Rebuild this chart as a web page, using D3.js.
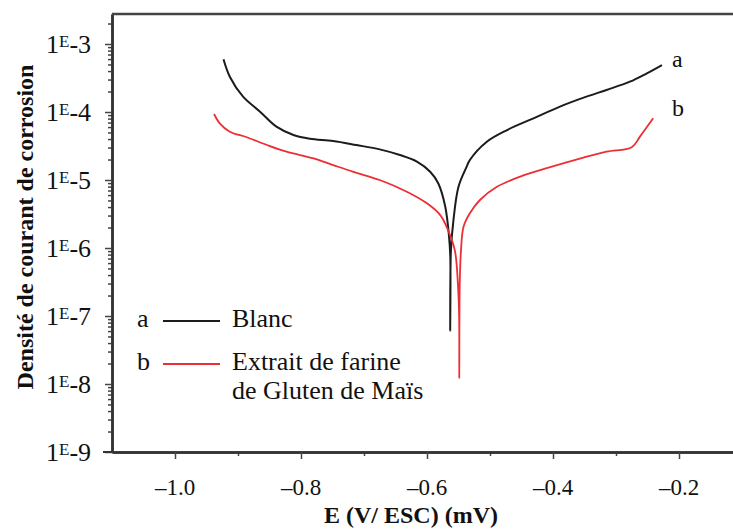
<!DOCTYPE html>
<html lang="fr">
<head>
<meta charset="utf-8">
<style>
  body { margin: 0; background: white; }
  svg { display: block; background: white; font-family: 'Liberation Serif', 'Times New Roman', serif; }
  .axis path { stroke: #333; stroke-width: 2.5; }
  .axis line { stroke: #444; stroke-width: 1.5; }
  .axis text { display: none; }
</style>
</head>
<body>
<svg width="733" height="529"></svg>
<script src="https://cdn.jsdelivr.net/npm/d3@7"></script>
<script>
// curve a : Blanc  (E in V, i in A/cm2)
const potentialA = [-0.923, -0.913, -0.892, -0.865, -0.839, -0.812, -0.786, -0.749, -0.712, -0.675,
  -0.643, -0.616, -0.595, -0.582, -0.571, -0.565, -0.563, -0.5632, -0.562, -0.558, -0.550, -0.537,
  -0.532, -0.505, -0.473, -0.431, -0.389, -0.347, -0.315, -0.278, -0.251, -0.227]
const currentA = [5.96e-4, 3.30e-4, 1.68e-4, 1.01e-4, 6.08e-5, 4.59e-5, 4.05e-5, 3.75e-5, 3.27e-5, 2.82e-5,
  2.33e-5, 1.86e-5, 1.32e-5, 8.9e-6, 4.05e-6, 1.47e-6, 7.4e-7, 6.0e-8, 9.3e-7, 2.58e-6, 7.96e-6, 1.57e-5,
  1.97e-5, 3.66e-5, 5.43e-5, 8.07e-5, 1.20e-4, 1.68e-4, 2.11e-4, 2.79e-4, 3.71e-4, 4.91e-4]

// curve b : Extrait de farine de Gluten de Maïs
const potentialB = [-0.938, -0.929, -0.913, -0.886, -0.854, -0.823, -0.780, -0.749, -0.717, -0.675,
  -0.632, -0.600, -0.579, -0.569, -0.556, -0.551, -0.549, -0.5488, -0.548, -0.546, -0.542, -0.532,
  -0.516, -0.489, -0.452, -0.410, -0.356, -0.315, -0.275, -0.262, -0.241]
const currentB = [9.35e-5, 6.82e-5, 5.13e-5, 4.25e-5, 3.27e-5, 2.61e-5, 2.08e-5, 1.66e-5, 1.32e-5, 1.0e-5,
  6.73e-6, 4.54e-6, 3.05e-6, 2.06e-6, 9.4e-7, 3.03e-7, 9.8e-8, 1.21e-8, 3.03e-7, 9.4e-7, 2.06e-6, 3.24e-6,
  5.08e-6, 7.96e-6, 1.12e-5, 1.49e-5, 2.08e-5, 2.61e-5, 3.03e-5, 4.34e-5, 8.07e-5]

const xTicks = [-1.0, -0.8, -0.6, -0.4, -0.2]
const xTickLabels = ["–1.0", "–0.8", "–0.6", "–0.4", "–0.2"]
const xMinorTicks = [-0.9, -0.7, -0.5, -0.3]
const yExponents = [-3, -4, -5, -6, -7, -8, -9]

const legendKeys = ["a", "b"]
const legendNames = [["Blanc"], ["Extrait de farine", "de Gluten de Maïs"]]
const colors = ["#1c1c1c", "#ec2f35"]

const svg = d3.select("svg")
const plotLeft = 112, plotTop = 14, plotBottom = 452, plotRight = 733

const x = d3.scaleLinear().domain([-1.1, -0.1]).range([plotLeft, plotLeft + 630])
const y = d3.scaleLog().domain([1e-9, Math.pow(10, -3 + 30 / 68)]).range([plotBottom, plotTop])

// minor log ticks
const yMinor = []
yExponents.forEach(function(e) {
  for (let k = 2; k <= 9; k++) {
    const v = k * Math.pow(10, e)
    if (v < y.domain()[1]) yMinor.push(v)
  }
})

svg.append("g").attr("class", "axis")
  .attr("transform", "translate(" + plotLeft + ",0)")
  .call(d3.axisLeft(y).tickValues(yMinor).tickSize(4).tickSizeOuter(0))
svg.append("g").attr("class", "axis")
  .attr("transform", "translate(" + plotLeft + ",0)")
  .call(d3.axisLeft(y).tickValues(yExponents.map(function(e) { return Math.pow(10, e) })).tickSize(7).tickSizeOuter(0))

svg.append("g").attr("class", "axis")
  .attr("transform", "translate(0," + plotBottom + ")")
  .call(d3.axisBottom(x).tickValues(xMinorTicks).tickSize(4).tickSizeOuter(0))
svg.append("g").attr("class", "axis")
  .attr("transform", "translate(0," + plotBottom + ")")
  .call(d3.axisBottom(x).tickValues(xTicks).tickSize(7).tickSizeOuter(0))

// extra tick at 1E-9 reaching left
svg.append("line").attr("x1", plotLeft - 9).attr("x2", plotLeft).attr("y1", y(1e-9)).attr("y2", y(1e-9))
  .attr("stroke", "#333").attr("stroke-width", 2)

// top frame line
svg.append("line").attr("x1", plotLeft).attr("x2", plotRight).attr("y1", plotTop).attr("y2", plotTop)
  .attr("stroke", "#444").attr("stroke-width", 2.5)

// y tick labels "1E-n"
const yl = svg.append("g").attr("font-size", 26).attr("fill", "#111")
yExponents.forEach(function(e) {
  const t = yl.append("text").attr("x", 46).attr("y", y(Math.pow(10, e)) + 9)
  t.append("tspan").text("1")
  t.append("tspan").text("E").attr("font-size", 17).attr("dy", -6)
  t.append("tspan").text(String(e)).attr("dy", 6)
})

// x tick labels
svg.append("g").selectAll("text").data(xTicks).enter().append("text")
  .attr("x", function(d) { return x(d) })
  .attr("y", 495)
  .attr("text-anchor", "middle")
  .attr("font-size", 23)
  .attr("fill", "#111")
  .text(function(d, i) { return xTickLabels[i] })

// axis titles
svg.append("text")
  .attr("x", 411).attr("y", 523)
  .attr("text-anchor", "middle")
  .attr("font-size", 24).attr("font-weight", "bold").attr("fill", "#111")
  .text("E (V/ ESC) (mV)")

svg.append("text")
  .attr("transform", "translate(33,227) rotate(-90)")
  .attr("text-anchor", "middle")
  .attr("font-size", 24).attr("font-weight", "bold").attr("fill", "#111")
  .text("Densité de courant de corrosion")

// curves
const line = d3.line()
  .x(function(d) { return x(d[0]) })
  .y(function(d) { return y(d[1]) })
  .curve(d3.curveCatmullRom.alpha(0.5))

const series = [
  d3.zip(potentialA, currentA),
  d3.zip(potentialB, currentB)
]

svg.append("g").selectAll("path").data(series).enter().append("path")
  .attr("fill", "none")
  .attr("stroke", function(d, i) { return colors[i] })
  .attr("stroke-width", function(d, i) { return i === 0 ? 2 : 1.8 })
  .attr("d", line)

// labels at curve ends
svg.append("g").selectAll("text").data(legendKeys).enter().append("text")
  .attr("x", 672)
  .attr("y", function(d, i) { return i === 0 ? 67 : 116 })
  .attr("font-size", 24).attr("fill", "#111")
  .text(function(d) { return d })

// legend
const lg = svg.append("g").attr("font-size", 26).attr("fill", "#111")
legendKeys.forEach(function(k, i) {
  const ly = i === 0 ? 327 : 370
  lg.append("text").attr("x", 137).attr("y", ly).text(k)
  lg.append("line").attr("x1", 163).attr("x2", 220).attr("y1", ly - 6).attr("y2", ly - 6)
    .attr("stroke", colors[i]).attr("stroke-width", 2)
  legendNames[i].forEach(function(s, j) {
    lg.append("text").attr("x", 232).attr("y", ly + j * 29).text(s)
  })
})
</script>
</body>
</html>
